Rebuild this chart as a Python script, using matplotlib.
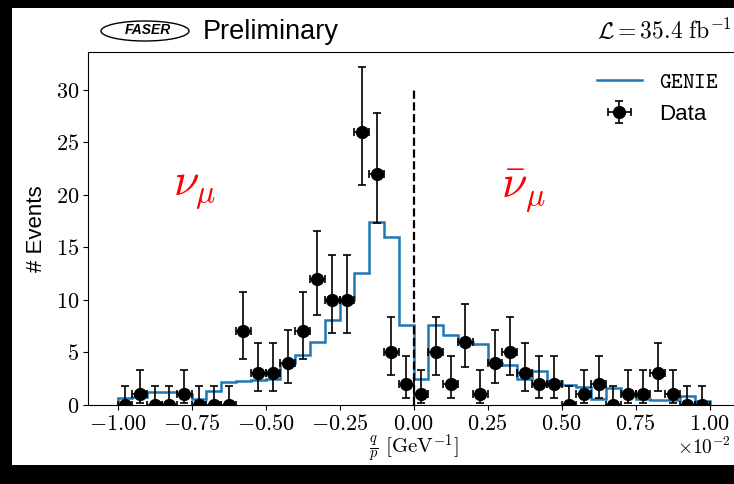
import matplotlib
matplotlib.use("Agg")
import matplotlib.pyplot as plt
import numpy as np
from matplotlib.patches import Ellipse, Rectangle

plt.rcParams["mathtext.fontset"] = "cm"
plt.rcParams["font.family"] = ["Liberation Sans", "DejaVu Sans"]

# q/p in units of 1e-2 GeV^-1, 40 bins from -1 to 1
q_over_p_min = -1.0
q_over_p_max = 1.0
n_bins = 40

data_counts = [0, 1, 0, 0, 1, 0, 0, 0, 7, 3,
               3, 4, 7, 12, 10, 10, 26, 22, 5, 2,
               1, 5, 2, 6, 1, 4, 5, 3, 2, 2,
               0, 1, 2, 0, 1, 1, 3, 1, 0, 0]

genie_counts = [0.65, 0.8, 1.2, 1.2, 1.0, 0.6, 1.35, 2.15, 2.3, 2.35,
                2.5, 3.97, 4.8, 6.0, 8.1, 10.0, 12.6, 17.4, 16.0, 7.6,
                2.45, 7.6, 6.7, 6.0, 5.8, 3.97, 3.8, 2.5, 3.2, 2.3,
                1.9, 1.7, 0.6, 1.6, 1.0, 0.6, 0.5, 0.5, 0.85, 0.35]

# 68% Poisson intervals (lower, upper) for the observed counts
poisson_interval = {
    0: (0.0, 1.841),
    1: (0.173, 3.300),
    2: (0.708, 4.638),
    3: (1.367, 5.918),
    4: (2.086, 7.163),
    5: (2.840, 8.382),
    6: (3.620, 9.584),
    7: (4.419, 10.77),
    10: (6.891, 14.27),
    12: (8.585, 16.56),
    22: (17.35, 27.76),
    26: (20.94, 32.16),
}

x_ticks = [-1.0, -0.75, -0.5, -0.25, 0.0, 0.25, 0.5, 0.75, 1.0]
x_tick_labels = ["$-1.00$", "$-0.75$", "$-0.50$", "$-0.25$", "$0.00$",
                 "$0.25$", "$0.50$", "$0.75$", "$1.00$"]
y_ticks = [0, 5, 10, 15, 20, 25, 30]
y_tick_labels = ["$0$", "$5$", "$10$", "$15$", "$20$", "$25$", "$30$"]

W, H = 734, 484
fig = plt.figure(figsize=(W / 100, H / 100), dpi=100, facecolor="black")
fig.add_artist(Rectangle((12 / W, 19 / H), 1, 1 - 27 / H, transform=fig.transFigure,
                         facecolor="white", edgecolor="none", zorder=-5))

ax = fig.add_axes([88 / W, 79 / H, 651.2 / W, 353 / H])

edges = np.linspace(q_over_p_min, q_over_p_max, n_bins + 1)
centers = 0.5 * (edges[:-1] + edges[1:])
half_width = 0.5 * (edges[1] - edges[0])

ax.stairs(genie_counts, edges, color="#1f77b4", lw=1.8, baseline=0,
          label=r"$\mathtt{GENIE}$")

err_lo = [n - poisson_interval[n][0] for n in data_counts]
err_hi = [poisson_interval[n][1] - n for n in data_counts]
ax.errorbar(centers, data_counts, xerr=half_width, yerr=[err_lo, err_hi],
            fmt="o", color="black", ms=8.5, capsize=3, elinewidth=1.2,
            capthick=1.2, label="Data", zorder=3)

ax.vlines(0, 0, 30, colors="black", linestyles="--", lw=1.6)

ax.set_xlim(-1.1, 1.1)
ax.set_ylim(0, 33.6)
ax.set_xticks(x_ticks)
ax.set_xticklabels(x_tick_labels)
ax.set_yticks(y_ticks)
ax.set_yticklabels(y_tick_labels)
ax.tick_params(labelsize=16, pad=3)

ax.set_xlabel(r"$\frac{q}{p}\ [\mathrm{GeV}^{-1}]$", fontsize=15)
ax.xaxis.set_label_coords(0.5, -0.125)
ax.xaxis.label.set_va("center")
ax.set_ylabel("# Events", fontsize=16)
ax.yaxis.set_label_coords(-0.063, 0.5)

ax.text(-0.74, 20.5, r"$\nu_\mu$", color="red", fontsize=33, ha="center", va="center")
ax.text(0.37, 20.3, r"$\bar{\nu}_\mu$", color="red", fontsize=33, ha="center", va="center")

ax.legend(loc="upper right", frameon=False, fontsize=16)

# header
fig.add_artist(Ellipse((145 / W, 1 - 31 / H), 88 / W, 20 / H, transform=fig.transFigure,
                       facecolor="none", edgecolor="black", lw=1.0))
fig.text(148 / W, 1 - 30 / H, "FASER", fontsize=10, fontweight="bold", fontstyle="italic",
         ha="center", va="center")
fig.text(203 / W, 1 - 32 / H, "Preliminary", fontsize=19.5, va="center")
fig.text(732 / W, 1 - 31 / H, r"$\mathcal{L} = 35.4\ \mathrm{fb}^{-1}$", fontsize=17,
         ha="right", va="center")
fig.text(731 / W, 1 - 447 / H, r"$\times10^{-2}$", fontsize=14, ha="right", va="center")

fig.savefig("out.png", dpi=100, facecolor=fig.get_facecolor())
